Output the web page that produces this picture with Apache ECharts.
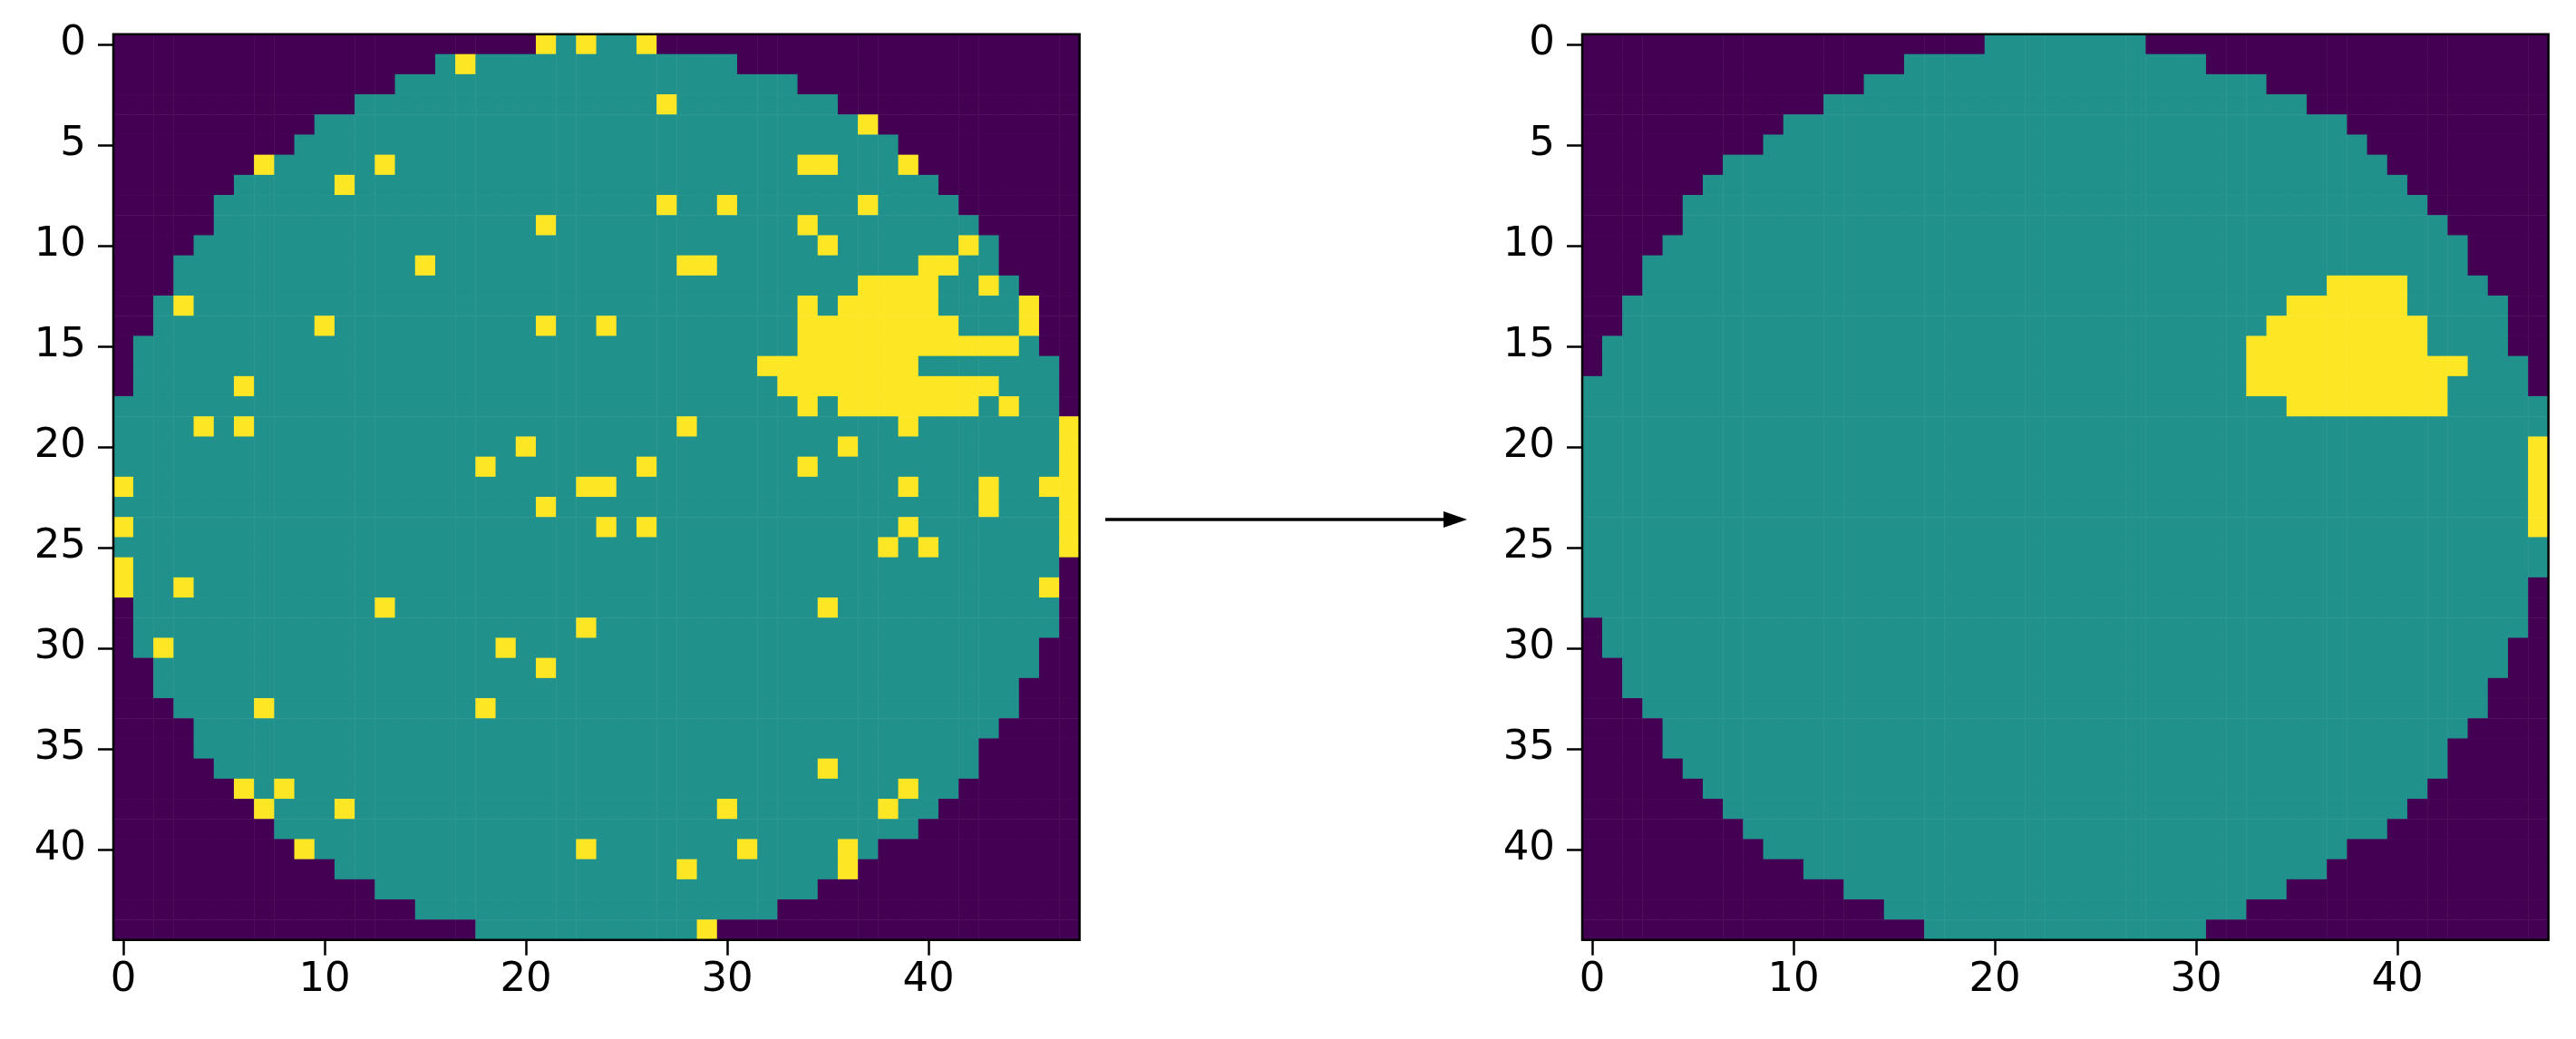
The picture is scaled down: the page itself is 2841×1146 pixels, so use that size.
<!DOCTYPE html>
<html>
<head>
<meta charset="utf-8">
<script src="https://cdn.jsdelivr.net/npm/echarts@6/dist/echarts.min.js"></script>
<style>
  html, body { margin: 0; padding: 0; background: #ffffff; }
  #chart { width: 2841px; height: 1146px; }
</style>
</head>
<body>
<div id="chart"></div>
<script>
// ---------------- data ----------------
// column / row categories of the 48 x 45 wafer map
const xCategories = Array.from({ length: 48 }, (_, i) => String(i));
const yCategories = Array.from({ length: 45 }, (_, i) => String(i));
const xTickValues = [0, 10, 20, 30, 40];
const yTickValues = [0, 5, 10, 15, 20, 25, 30, 35, 40];

// value codes: 0 = outside wafer, 1 = good die, 2 = defect die
// LEFT map (raw): first and last wafer column for each row 0..44
const leftRowStart = [21,16,14,12,10,9,7,6,5,5,4,3,3,2,2,1,1,1,
                      0,0,0,0,0,0,0,0,0,0,
                      1,1,1,2,2,3,4,4,5,6,7,8,9,11,13,15,18];
const leftRowEnd   = [26,30,33,35,37,38,39,40,41,42,43,43,44,45,45,45,46,46,46,
                      47,47,47,47,47,47,47,
                      46,46,46,46,45,45,44,44,43,42,42,41,40,39,37,36,34,32,29];
// LEFT map defect runs: [row, firstCol, lastCol]
const leftDefects = [
  [0,21,21],[0,23,23],[0,26,26],
  [1,17,17],
  [3,27,27],
  [4,37,37],
  [6,7,7],[6,13,13],[6,34,35],[6,39,39],
  [7,11,11],
  [8,27,27],[8,30,30],[8,37,37],
  [9,21,21],[9,34,34],
  [10,35,35],[10,42,42],
  [11,15,15],[11,28,29],[11,40,41],
  [12,37,40],[12,43,43],
  [13,3,3],[13,34,34],[13,36,40],[13,45,45],
  [14,10,10],[14,21,21],[14,24,24],[14,34,41],[14,45,45],
  [15,34,44],
  [16,32,39],
  [17,6,6],[17,33,43],
  [18,34,34],[18,36,42],[18,44,44],
  [19,4,4],[19,6,6],[19,28,28],[19,39,39],[19,47,47],
  [20,20,20],[20,36,36],[20,47,47],
  [21,18,18],[21,26,26],[21,34,34],[21,47,47],
  [22,0,0],[22,23,24],[22,39,39],[22,43,43],[22,46,47],
  [23,21,21],[23,43,43],[23,47,47],
  [24,0,0],[24,24,24],[24,26,26],[24,39,39],[24,47,47],
  [25,38,38],[25,40,40],[25,47,47],
  [26,0,0],
  [27,0,0],[27,3,3],[27,46,46],
  [28,13,13],[28,35,35],
  [29,23,23],
  [30,2,2],[30,19,19],
  [31,21,21],
  [33,7,7],[33,18,18],
  [36,35,35],
  [37,6,6],[37,8,8],[37,39,39],
  [38,7,7],[38,11,11],[38,30,30],[38,38,38],
  [40,9,9],[40,23,23],[40,31,31],[40,36,36],
  [41,28,28],[41,36,36],
  [44,29,29]
];

// RIGHT map (denoised): first and last wafer column for each row 0..44
const rightRowStart = [20,16,14,12,10,9,7,6,5,5,4,3,3,2,2,1,1,
                       0,0,0,0,0,0,0,0,0,0,0,0,
                       1,1,2,2,3,4,4,5,6,7,8,9,11,13,15,17];
const rightRowEnd   = [27,30,33,35,37,38,39,40,41,42,43,43,44,45,45,45,46,46,
                       47,47,47,47,47,47,47,47,47,
                       46,46,46,45,45,44,44,43,42,42,41,40,39,37,36,34,32,30];
// RIGHT map defect runs: [row, firstCol, lastCol]
const rightDefects = [
  [12,37,40],[13,35,40],[14,34,41],[15,33,41],[16,33,43],[17,33,42],[18,35,42],
  [20,47,47],[21,47,47],[22,47,47],[23,47,47],[24,47,47]
];

// ---------------- build heatmap cells ----------------
function buildCells(rowStart, rowEnd, defects) {
  const grid = yCategories.map((_, r) =>
    xCategories.map((_, c) => (c >= rowStart[r] && c <= rowEnd[r]) ? 1 : 0));
  defects.forEach(([r, c0, c1]) => { for (let c = c0; c <= c1; c++) grid[r][c] = 2; });
  const out = [];
  grid.forEach((row, r) => row.forEach((v, c) => out.push([c, r, v])));
  return out;
}
const leftCells = buildCells(leftRowStart, leftRowEnd, leftDefects);
const rightCells = buildCells(rightRowStart, rightRowEnd, rightDefects);

// ---------------- layout & style ----------------
const CELL = 22.2;
const GRID_TOP = 37.7;
const GRID_W = CELL * xCategories.length;
const GRID_H = CELL * yCategories.length;
const GRID_LEFTS = [125, 1745];
const FONT = 'DejaVu Sans';
const FONT_SIZE = 45;
const PURPLE = '#440154', TEAL = '#21918c', YELLOW = '#fde725';

const grids = GRID_LEFTS.map(l => ({
  left: l, top: GRID_TOP, width: GRID_W, height: GRID_H,
  show: true, borderColor: '#000', borderWidth: 2.5,
  backgroundColor: 'rgba(0,0,0,0)', z: 10
}));

const xAxes = GRID_LEFTS.map((_, g) => ({
  type: 'category', gridIndex: g, data: xCategories, position: 'bottom',
  axisLine: { show: false },
  axisTick: { show: true, alignWithLabel: true, length: 17,
    interval: (i) => xTickValues.includes(i),
    lineStyle: { color: '#000', width: 2.5 } },
  axisLabel: { show: true, interval: (i) => xTickValues.includes(i),
    fontFamily: FONT, fontSize: FONT_SIZE, color: '#000', margin: 22 },
  splitLine: { show: false }, z: 10
}));
const yAxes = GRID_LEFTS.map((_, g) => ({
  type: 'category', gridIndex: g, data: yCategories, inverse: true,
  axisLine: { show: false },
  axisTick: { show: true, alignWithLabel: true, length: 17,
    interval: (i) => yTickValues.includes(i),
    lineStyle: { color: '#000', width: 2.5 } },
  axisLabel: { show: true, interval: (i) => yTickValues.includes(i),
    fontFamily: FONT, fontSize: FONT_SIZE, color: '#000', margin: 30 },
  splitLine: { show: false }, z: 10
}));

// arrow between the two panels
const ARROW_Y = 573;
const ARROW_X0 = 1219, ARROW_X1 = 1618;

const chart = echarts.init(document.getElementById('chart'), null, { renderer: 'canvas' });
chart.setOption({
  animation: false,
  backgroundColor: '#ffffff',
  grid: grids,
  xAxis: xAxes,
  yAxis: yAxes,
  visualMap: {
    type: 'piecewise', show: false, seriesIndex: [0, 1], dimension: 2,
    pieces: [
      { value: 0, color: PURPLE },
      { value: 1, color: TEAL },
      { value: 2, color: YELLOW }
    ]
  },
  series: [
    { type: 'heatmap', xAxisIndex: 0, yAxisIndex: 0, data: leftCells,
      emphasis: { disabled: true }, itemStyle: { borderWidth: 0 } },
    { type: 'heatmap', xAxisIndex: 1, yAxisIndex: 1, data: rightCells,
      emphasis: { disabled: true }, itemStyle: { borderWidth: 0 } }
  ],
  graphic: [
    { type: 'line', shape: { x1: ARROW_X0, y1: ARROW_Y, x2: ARROW_X1 - 20, y2: ARROW_Y },
      style: { stroke: '#000', lineWidth: 3.5 }, silent: true },
    { type: 'polygon', shape: { points: [[ARROW_X1, ARROW_Y], [ARROW_X1 - 26, ARROW_Y - 9], [ARROW_X1 - 26, ARROW_Y + 9]] },
      style: { fill: '#000' }, silent: true }
  ]
});
</script>
</body>
</html>
